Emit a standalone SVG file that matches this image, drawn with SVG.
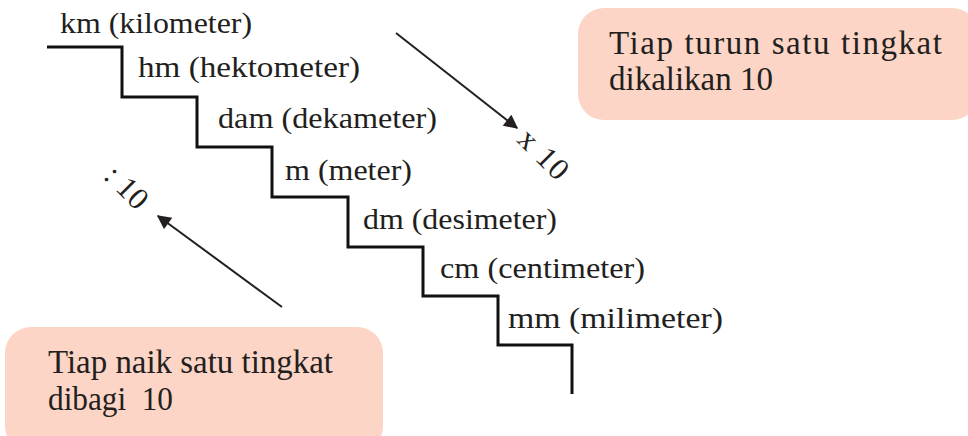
<svg xmlns="http://www.w3.org/2000/svg" width="968" height="436" viewBox="0 0 968 436">
<style>
.lbl{font-family:"Liberation Serif","Times New Roman",serif;font-size:30px;fill:#231f20}
.rot{font-family:"Liberation Serif","Times New Roman",serif;font-size:31px;fill:#231f20}
.box{fill:#fcd5c6}
.bt{font-family:"Liberation Serif","Times New Roman",serif;font-size:33px;fill:#231f20}
.arr{stroke:#231f20;stroke-width:2;fill:none}
</style>
<defs>
<marker id="ah2" viewBox="0 0 10 10" refX="9" refY="5" markerWidth="16" markerHeight="14" orient="auto" markerUnits="userSpaceOnUse">
<path d="M0,0 L10,5 L0,10 Z" fill="#231f20"/>
</marker>
</defs>
<rect width="968" height="436" fill="#ffffff"/>
<g id="stairs">
<path d="M47,47 H122 V97 H197 V147 H272 V197 H348 V247 H423 V296 H498 V345 H572 V394" fill="none" stroke="#111" stroke-width="3"/>
</g>
<g id="labels">
<text id="km" class="lbl" x="60" y="33" textLength="192" lengthAdjust="spacingAndGlyphs">km (kilometer)</text>
<text id="hm" class="lbl" x="138" y="77" textLength="222" lengthAdjust="spacingAndGlyphs">hm (hektometer)</text>
<text id="dam" class="lbl" x="218" y="128" textLength="219" lengthAdjust="spacingAndGlyphs">dam (dekameter)</text>
<text id="m" class="lbl" x="285" y="180" textLength="127" lengthAdjust="spacingAndGlyphs">m (meter)</text>
<text id="dm" class="lbl" x="363" y="229" textLength="194" lengthAdjust="spacingAndGlyphs">dm (desimeter)</text>
<text id="cm" class="lbl" x="440" y="278" textLength="205" lengthAdjust="spacingAndGlyphs">cm (centimeter)</text>
<text id="mm" class="lbl" x="508" y="328" textLength="215" lengthAdjust="spacingAndGlyphs">mm (milimeter)</text>
</g>
<g id="connectors">
<line class="arr" x1="396" y1="33" x2="517" y2="128" marker-end="url(#ah2)"/>
<line class="arr" x1="282" y1="307" x2="158" y2="216" marker-end="url(#ah2)"/>
</g>
<g id="times10">
<text class="rot" x="544" y="154" text-anchor="middle" dominant-baseline="central" transform="rotate(45 544 154)" textLength="58" lengthAdjust="spacing">x 10</text>
</g>
<g id="div10">
<text class="rot" x="127" y="187" text-anchor="middle" dominant-baseline="central" transform="rotate(45 127 187)" textLength="48" lengthAdjust="spacing">: 10</text>
</g>
<g id="box-down">
<rect class="box" x="578" y="8" width="400" height="112" rx="26"/>
<text class="bt" x="609" y="54" textLength="333" lengthAdjust="spacing">Tiap turun satu tingkat</text>
<text class="bt" x="609" y="90" textLength="164" lengthAdjust="spacingAndGlyphs">dikalikan 10</text>
</g>
<g id="box-up">
<rect class="box" x="5" y="327" width="378" height="125" rx="26"/>
<text class="bt" x="48" y="373" textLength="285" lengthAdjust="spacingAndGlyphs">Tiap naik satu tingkat</text>
<text class="bt" x="48" y="410" textLength="125" lengthAdjust="spacingAndGlyphs" xml:space="preserve">dibagi  10</text>
</g>
</svg>
